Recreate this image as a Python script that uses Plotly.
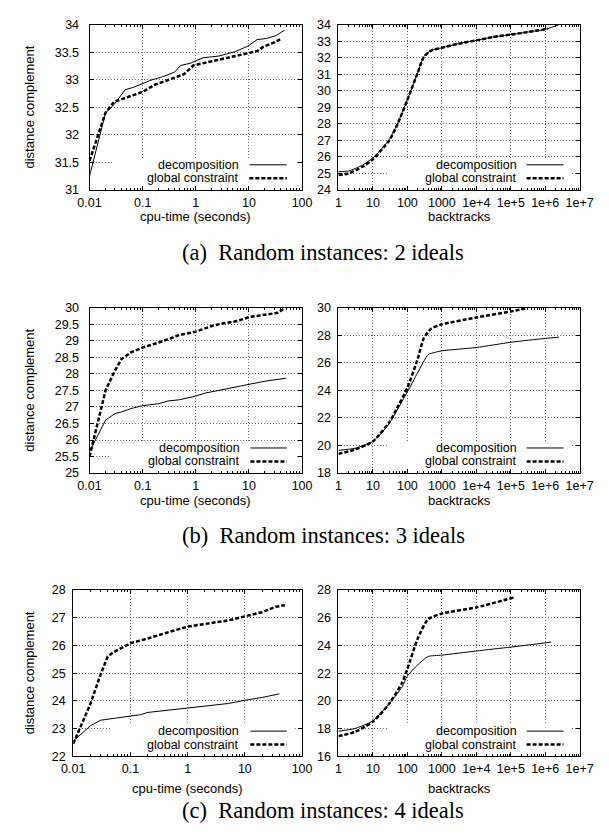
import plotly.graph_objects as go
from plotly.subplots import make_subplots

# ---------------- data ----------------
# (a) 2 ideals
cpu2_dec_t = [0.01, 0.02, 0.029, 0.047, 0.066, 0.1, 0.15, 0.23, 0.4, 0.52, 0.79, 1.37, 2.7, 5.5, 9.5, 14.3, 21.6, 32, 47]
cpu2_dec_v = [31.25, 32.4, 32.55, 32.82, 32.86, 32.93, 33.0, 33.05, 33.14, 33.26, 33.3, 33.4, 33.43, 33.51, 33.61, 33.73, 33.75, 33.8, 33.9]
cpu2_glo_t = [0.01, 0.02, 0.029, 0.047, 0.1, 0.17, 0.3, 0.6, 0.9, 1.37, 2.7, 5.5, 9.5, 14.3, 18.8, 28.5, 42]
cpu2_glo_v = [31.53, 32.4, 32.6, 32.67, 32.78, 32.91, 32.99, 33.1, 33.26, 33.3, 33.37, 33.43, 33.49, 33.52, 33.6, 33.67, 33.75]
bt2_dec_x = [1, 2, 5, 10, 20, 30, 50, 100, 200, 300, 500, 1000, 3000, 1e4, 3e4, 1e5, 3e5, 1e6, 2.5e6]
bt2_dec_v = [25.1, 25.15, 25.5, 25.93, 26.6, 27.05, 27.94, 29.45, 31.1, 32.07, 32.45, 32.6, 32.85, 33.05, 33.25, 33.4, 33.55, 33.72, 34.0]
bt2_glo_x = [1, 2, 5, 10, 20, 30, 50, 100, 200, 300, 500, 1000, 3000, 1e4, 3e4, 1e5, 3e5, 1.2e6]
bt2_glo_v = [24.9, 25.0, 25.4, 25.85, 26.55, 27.0, 27.9, 29.45, 31.1, 32.05, 32.45, 32.6, 32.85, 33.05, 33.25, 33.4, 33.55, 33.75]

# (b) 3 ideals
cpu3_dec_t = [0.01, 0.02, 0.03, 0.04, 0.06, 0.1, 0.2, 0.3, 0.5, 1, 1.5, 3, 5, 10, 20, 50]
cpu3_dec_v = [25.65, 26.6, 26.8, 26.85, 26.95, 27.04, 27.1, 27.18, 27.22, 27.33, 27.42, 27.52, 27.6, 27.7, 27.78, 27.87]
cpu3_glo_t = [0.01, 0.02, 0.03, 0.04, 0.06, 0.1, 0.2, 0.3, 0.5, 1, 2, 3, 6, 10, 20, 35, 45]
cpu3_glo_v = [25.5, 27.5, 28.1, 28.45, 28.65, 28.8, 28.95, 29.05, 29.18, 29.28, 29.45, 29.52, 29.6, 29.72, 29.78, 29.85, 29.97]
bt3_dec_x = [1, 3, 10, 30, 50, 100, 200, 400, 600, 1000, 1e4, 1e5, 1e6, 2.5e6]
bt3_dec_v = [19.65, 19.8, 20.3, 21.6, 22.55, 23.9, 25.3, 26.6, 26.75, 26.88, 27.12, 27.5, 27.78, 27.87]
bt3_glo_x = [1, 3, 10, 30, 50, 100, 200, 300, 500, 1000, 1e4, 1e5, 3e5]
bt3_glo_v = [19.4, 19.7, 20.3, 21.7, 22.7, 24.2, 26.3, 27.8, 28.5, 28.8, 29.3, 29.74, 29.98]

# (c) 4 ideals
cpu4_dec_t = [0.01, 0.02, 0.03, 0.05, 0.1, 0.15, 0.2, 0.3, 0.5, 1, 2, 5, 10, 20, 40]
cpu4_dec_v = [22.55, 23.1, 23.3, 23.37, 23.47, 23.5, 23.58, 23.62, 23.65, 23.72, 23.8, 23.9, 24.02, 24.12, 24.25]
cpu4_glo_t = [0.01, 0.02, 0.03, 0.04, 0.05, 0.1, 0.2, 0.3, 0.5, 1, 2, 5, 10, 20, 35, 50]
cpu4_glo_v = [22.45, 23.9, 24.95, 25.6, 25.75, 26.08, 26.25, 26.35, 26.5, 26.68, 26.78, 26.9, 27.05, 27.2, 27.4, 27.45]
bt4_dec_x = [1, 3, 10, 30, 70, 100, 200, 400, 1000, 1e4, 1e5, 1.5e6]
bt4_dec_v = [17.8, 18.0, 18.55, 19.8, 21.0, 21.8, 22.6, 23.2, 23.3, 23.6, 23.88, 24.24]
bt4_glo_x = [1, 3, 10, 30, 70, 100, 200, 400, 1000, 1e4, 1.2e5]
bt4_glo_v = [17.45, 17.75, 18.5, 19.8, 21.3, 22.3, 24.5, 25.9, 26.3, 26.75, 27.45]

# ticks
cpu_tickvals = [0.01, 0.1, 1, 10, 100]
cpu_ticktext = ["0.01", "0.1", "1", "10", "100"]
bt_tickvals = [1, 10, 100, 1000, 1e4, 1e5, 1e6, 1e7]
bt_ticktext = ["1", "10", "100", "1000", "1e+4", "1e+5", "1e+6", "1e+7"]
y1_ticks = [31, 31.5, 32, 32.5, 33, 33.5, 34]
y1_text = ["31", "31.5", "32", "32.5", "33", "33.5", "34"]
y2_ticks = [24, 25, 26, 27, 28, 29, 30, 31, 32, 33, 34]
y3_ticks = [25, 25.5, 26, 26.5, 27, 27.5, 28, 28.5, 29, 29.5, 30]
y3_text = ["25", "25.5", "26", "26.5", "27", "27.5", "28", "28.5", "29", "29.5", "30"]
y4_ticks = [18, 20, 22, 24, 26, 28, 30]
y5_ticks = [22, 23, 24, 25, 26, 27, 28]
y6_ticks = [16, 18, 20, 22, 24, 26, 28]

series_names = ["decomposition", "global constraint"]
captions = ["(a)  Random instances: 2 ideals", "(b)  Random instances: 3 ideals", "(c)  Random instances: 4 ideals"]
ytitle = "distance complement"
xtitles = ["cpu-time (seconds)", "backtracks"]

# ---------------- layout geometry (pixels) ----------------
W, H = 609, 834
def fx(p): return p / W
def fy(p): return 1 - p / H

panels = [
    dict(r=1, c=1, x0=81, x1=303, yt=18, yb=186, dec=(cpu2_dec_t, cpu2_dec_v), glo=(cpu2_glo_t, cpu2_glo_v),
         xt=(cpu_tickvals, cpu_ticktext), xr=[-2, 2], yv=(y1_ticks, y1_text), yr=[31, 34], so=7,
         tx=0.712, l0=0.752, l1=0.928, bx=0.105, bx1=0.97, smooth=False),
    dict(r=1, c=2, x0=341, x1=593, yt=18, yb=186, dec=(bt2_dec_x, bt2_dec_v), glo=(bt2_glo_x, bt2_glo_v),
         xt=(bt_tickvals, bt_ticktext), xr=[0, 7], yv=(y2_ticks, [str(v) for v in y2_ticks]), yr=[24, 34], so=4,
         tx=0.75, l0=0.78, l1=0.933, bx=0.206, bx1=0.96, smooth=True),
    dict(r=2, c=1, x0=81, x1=303, yt=306, yb=474, dec=(cpu3_dec_t, cpu3_dec_v), glo=(cpu3_glo_t, cpu3_glo_v),
         xt=(cpu_tickvals, cpu_ticktext), xr=[-2, 2], yv=(y3_ticks, y3_text), yr=[25, 30], so=7,
         tx=0.716, l0=0.757, l1=0.928, bx=0.1, bx1=0.97, smooth=False),
    dict(r=2, c=2, x0=341, x1=593, yt=306, yb=474, dec=(bt3_dec_x, bt3_dec_v), glo=(bt3_glo_x, bt3_glo_v),
         xt=(bt_tickvals, bt_ticktext), xr=[0, 7], yv=(y4_ticks, [str(v) for v in y4_ticks]), yr=[18, 30], so=4,
         tx=0.75, l0=0.78, l1=0.933, bx=0.206, bx1=0.96, smooth=True),
    dict(r=3, c=1, x0=64, x1=303, yt=593, yb=762, dec=(cpu4_dec_t, cpu4_dec_v), glo=(cpu4_glo_t, cpu4_glo_v),
         xt=(cpu_tickvals, cpu_ticktext), xr=[-2, 2], yv=(y5_ticks, [str(v) for v in y5_ticks]), yr=[22, 28], so=4,
         tx=0.732, l0=0.774, l1=0.933, bx=0.163, bx1=0.97, smooth=False),
    dict(r=3, c=2, x0=341, x1=593, yt=593, yb=762, dec=(bt4_dec_x, bt4_dec_v), glo=(bt4_glo_x, bt4_glo_v),
         xt=(bt_tickvals, bt_ticktext), xr=[0, 7], yv=(y6_ticks, [str(v) for v in y6_ticks]), yr=[16, 28], so=4,
         tx=0.75, l0=0.78, l1=0.933, bx=0.206, bx1=0.96, smooth=True),
]

SANS = "Liberation Sans, Arial, sans-serif"
SERIF = "Liberation Serif, Times New Roman, serif"
DASH = "4px,2px"
GRIDDASH = "1px,2px"

fig = make_subplots(rows=3, cols=2)

for i, p in enumerate(panels):
    n = "" if i == 0 else str(i + 1)
    shape_kw = "spline" if p["smooth"] else "linear"
    fig.add_trace(go.Scatter(x=p["dec"][0], y=p["dec"][1], mode="lines", name=series_names[0],
                             line=dict(color="black", width=1, shape=shape_kw, smoothing=0.6),
                             showlegend=False, hoverinfo="skip"), row=p["r"], col=p["c"])
    fig.add_trace(go.Scatter(x=p["glo"][0], y=p["glo"][1], mode="lines", name=series_names[1],
                             line=dict(color="black", width=2.5, dash=DASH, shape=shape_kw, smoothing=0.6),
                             showlegend=False, hoverinfo="skip"), row=p["r"], col=p["c"])
    xa = dict(type="log", range=p["xr"], domain=[fx(p["x0"]), fx(p["x1"])],
              tickmode="array", tickvals=p["xt"][0], ticktext=p["xt"][1],
              ticks="inside", ticklen=4, tickwidth=1, tickcolor="black",
              showline=True, linecolor="black", linewidth=1, mirror="allticks",
              showgrid=True, gridcolor="#666", gridwidth=1, griddash=GRIDDASH,
              tickfont=dict(family=SANS, size=12.5, color="black"),
              ticklabelstandoff=1,
              minor=dict(ticks="inside", ticklen=2, tickcolor="black", dtick="D1", showgrid=False),
              zeroline=False)
    ya = dict(type="linear", range=p["yr"], domain=[fy(p["yb"]), fy(p["yt"])],
              tickmode="array", tickvals=p["yv"][0], ticktext=p["yv"][1],
              ticks="inside", ticklen=4, tickwidth=1, tickcolor="black",
              showline=True, linecolor="black", linewidth=1, mirror="allticks",
              showgrid=True, gridcolor="#666", gridwidth=1, griddash=GRIDDASH,
              tickfont=dict(family=SANS, size=12.5, color="black"),
              ticklabelstandoff=p["so"], zeroline=False)
    fig.update_layout(**{"xaxis" + n: xa, "yaxis" + n: ya})

    xref = "x" + n + " domain"
    yref = "y" + n + " domain"
    hpx = p["yb"] - p["yt"]
    # legend background (hides grid like gnuplot key)
    fig.add_shape(type="rect", xref=xref, yref=yref, x0=p["bx"], x1=p["bx1"], y0=4 / hpx, y1=32 / hpx,
                  fillcolor="white", line=dict(width=0), layer="above")
    rows = [25.5 / hpx, 11.8 / hpx]
    for k in range(2):
        fig.add_annotation(xref=xref, yref=yref, x=p["tx"], y=rows[k], text=series_names[k],
                           xanchor="right", yanchor="middle", showarrow=False,
                           font=dict(family=SANS, size=12.5, color="black"))
        fig.add_shape(type="line", xref=xref, yref=yref, x0=p["l0"], x1=p["l1"], y0=rows[k], y1=rows[k],
                      line=dict(color="black", width=1 if k == 0 else 2.5, dash="solid" if k == 0 else DASH),
                      layer="above")

# axis titles
ytitle_centers = [102, 390, 677.5]
xtitle_y = [213, 502, 795]
for r in range(3):
    fig.add_annotation(xref="paper", yref="paper", x=fx(18), y=fy(ytitle_centers[r]), text=ytitle,
                       textangle=-90, showarrow=False, xanchor="center", yanchor="middle",
                       font=dict(family=SANS, size=13, color="black"))
    left = panels[2 * r]
    right = panels[2 * r + 1]
    fig.add_annotation(xref="paper", yref="paper", x=fx((left["x0"] + left["x1"]) / 2), y=fy(xtitle_y[r]),
                       text=xtitles[0], showarrow=False, xanchor="center", yanchor="middle",
                       font=dict(family=SANS, size=13, color="black"))
    fig.add_annotation(xref="paper", yref="paper", x=fx((right["x0"] + right["x1"]) / 2), y=fy(xtitle_y[r]),
                       text=xtitles[1], showarrow=False, xanchor="center", yanchor="middle",
                       font=dict(family=SANS, size=13, color="black"))

caption_y = [250, 538, 817]
for r in range(3):
    fig.add_annotation(xref="paper", yref="paper", x=fx(325), y=fy(caption_y[r]), text=captions[r],
                       showarrow=False, xanchor="center", yanchor="middle",
                       font=dict(family=SERIF, size=22.5, color="black"))

fig.update_layout(width=W, height=H, margin=dict(l=0, r=0, t=0, b=0),
                  paper_bgcolor="white", plot_bgcolor="white", showlegend=False)

fig.write_html("out.html", config={"displayModeBar": False},
               post_script="document.body.style.margin='0';document.body.style.overflow='hidden';")
